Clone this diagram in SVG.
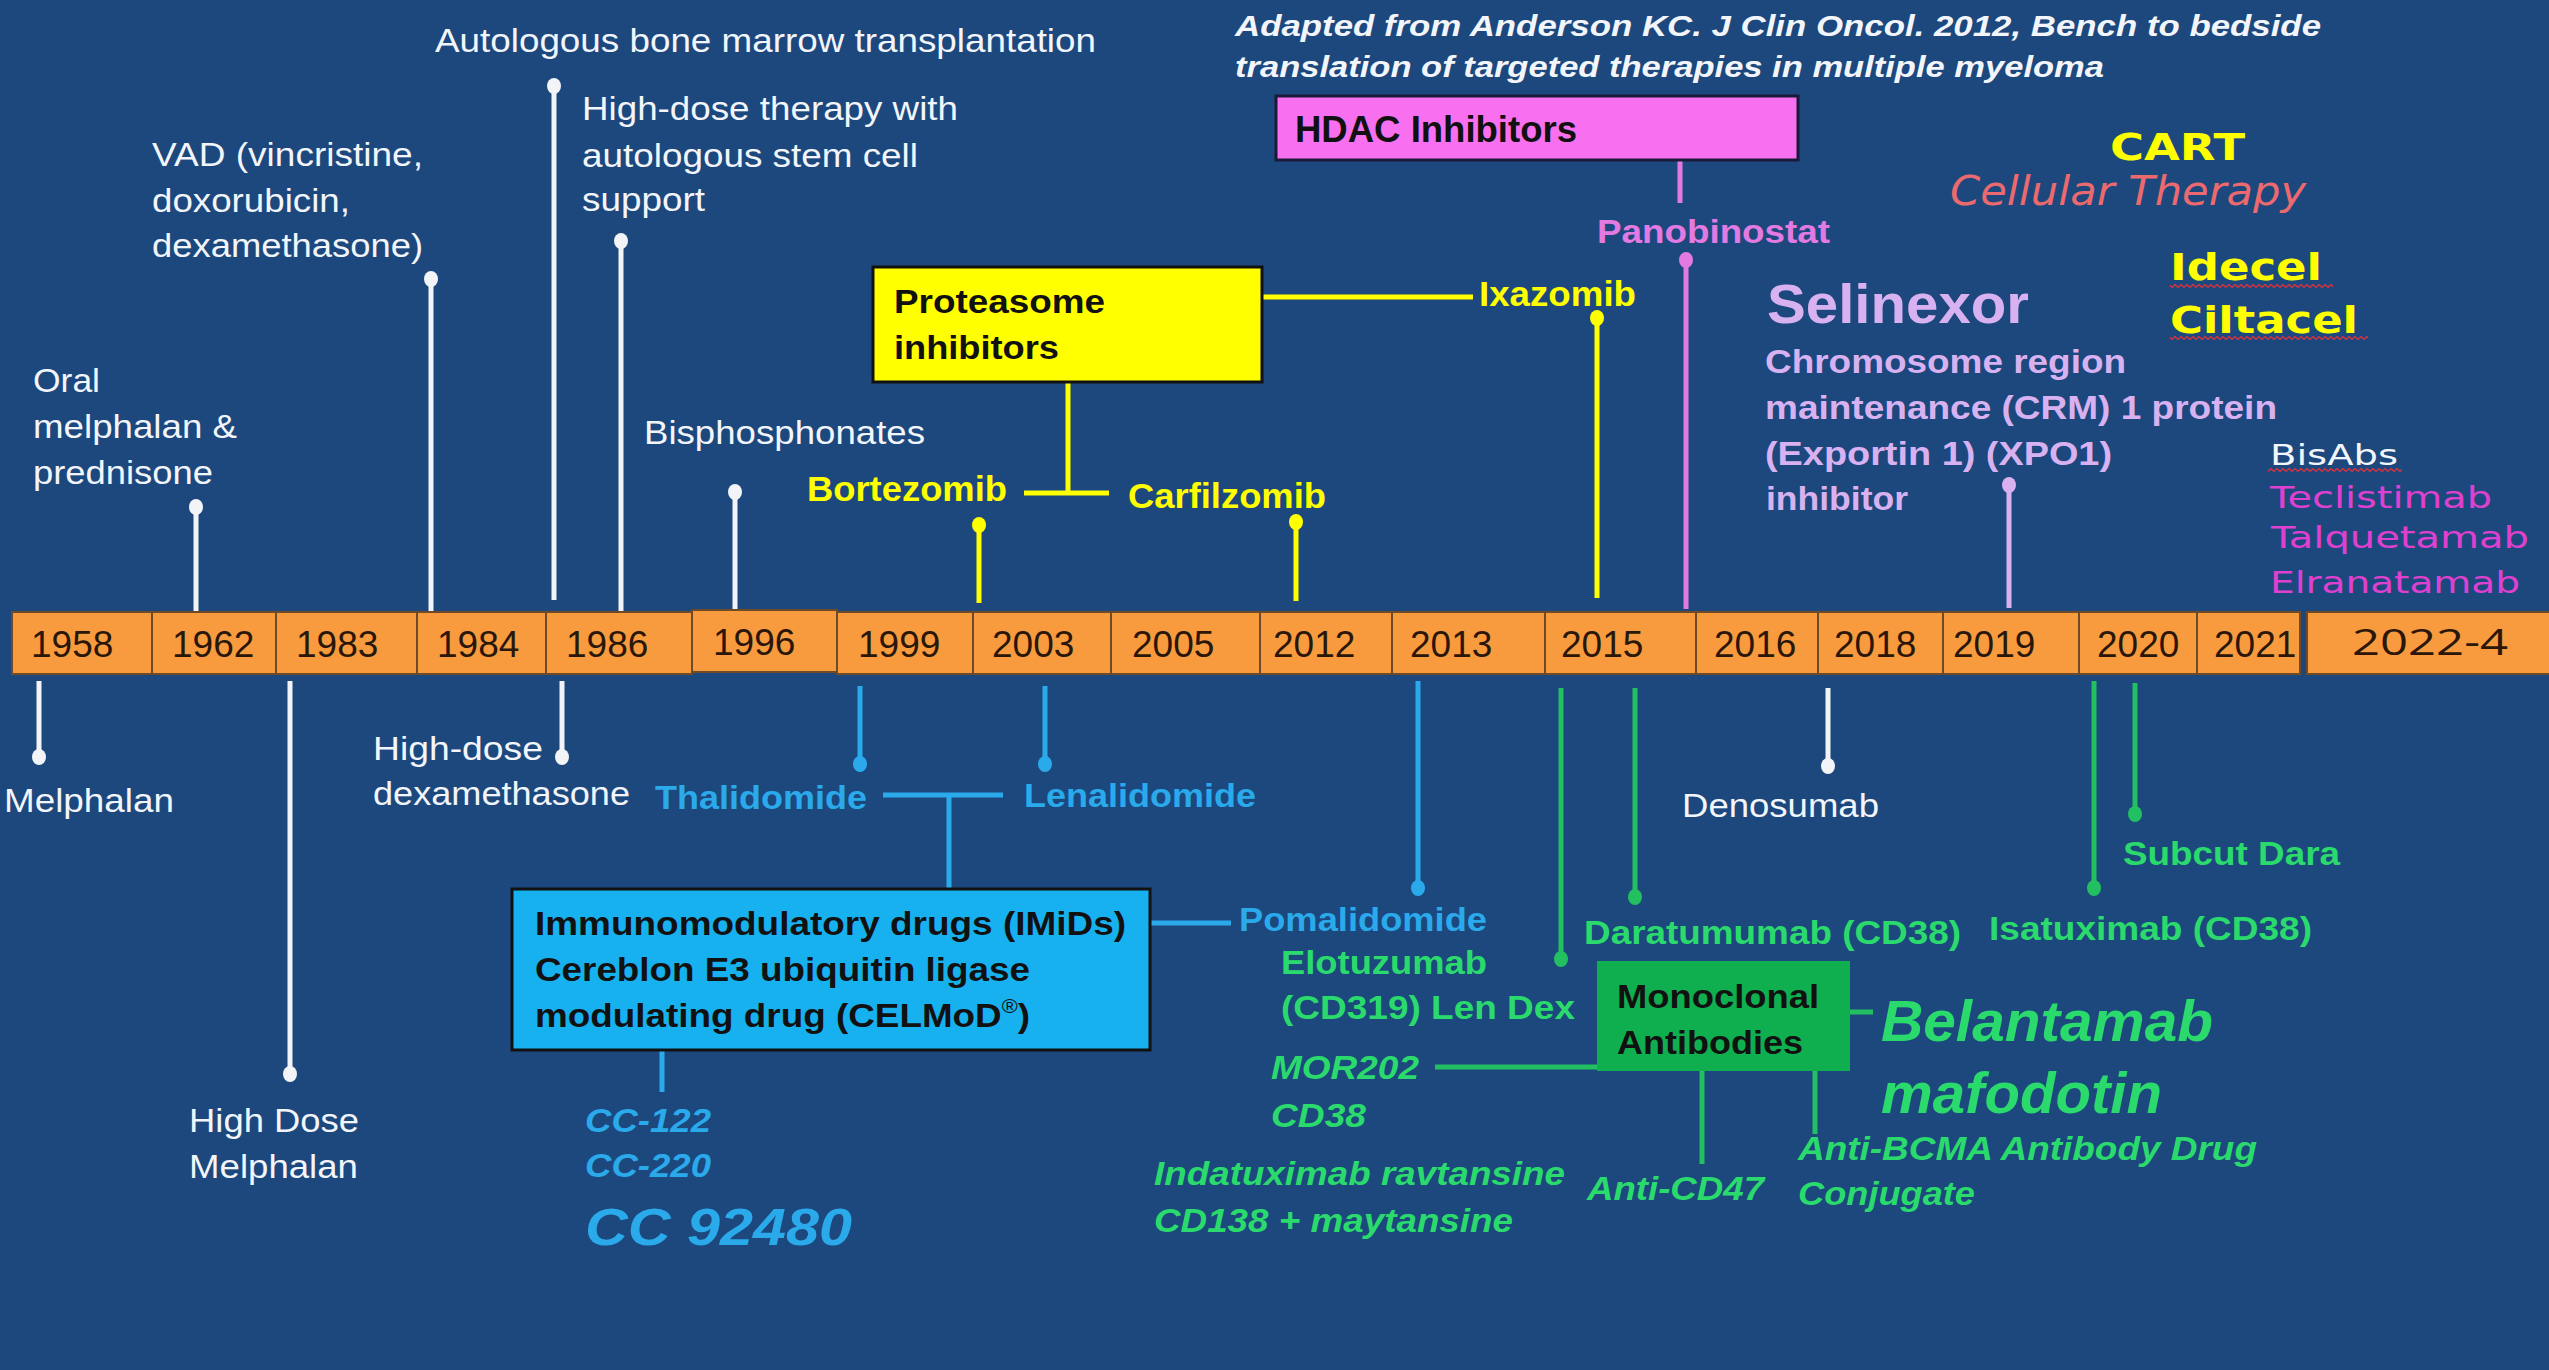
<svg xmlns="http://www.w3.org/2000/svg" width="2549" height="1370" viewBox="0 0 2549 1370">
<defs>
<style>
text{font-family:"Liberation Sans",Arial,sans-serif}
.w{font-size:33px;fill:#F2F5FA}
.b{font-weight:bold}
.i{font-style:italic}
.yr{font-size:37px;fill:#2A170A}
.yel{fill:#FFFF00}
.blu{fill:#2AAAEA}
.grn{fill:#2BDA6C}
.pnk{fill:#E27AE2}
.lav{fill:#D8B2F0}
.mag{fill:#E040D0}
.blk{fill:#111}
.dv{font-family:"DejaVu Sans",Verdana,sans-serif}
.cell{fill:#F89B3E;stroke:#6E4A28;stroke-width:2}
.sw{stroke:#F2F4F8;stroke-width:5;fill:none}
.sy{stroke:#FFFF00;stroke-width:5;fill:none}
.sb{stroke:#2AAAEA;stroke-width:5;fill:none}
.sg{stroke:#22C060;stroke-width:5;fill:none}
.sp{stroke:#E27AE2;stroke-width:5;fill:none}
.sl{stroke:#D8B2F0;stroke-width:5;fill:none}
.dw{fill:#F2F4F8}.dy{fill:#FFFF00}.db{fill:#2AAAEA}.dg{fill:#22C060}.dp{fill:#E27AE2}.dl{fill:#D8B2F0}
</style>
<pattern id="wave" patternUnits="userSpaceOnUse" width="6" height="4">
<path d="M0 3.5 L3 0.5 L6 3.5" stroke="#E0303A" stroke-width="1.3" fill="none"/>
</pattern>
</defs>
<rect width="2549" height="1370" fill="#1C487E"/>

<g id="connectors">
<!-- white stems above -->
<line class="sw" x1="196" y1="507" x2="196" y2="612"/><ellipse class="dw" cx="196" cy="507" rx="7" ry="8"/>
<line class="sw" x1="431" y1="279" x2="431" y2="612"/><ellipse class="dw" cx="431" cy="279" rx="7" ry="8"/>
<line class="sw" x1="554" y1="86" x2="554" y2="600"/><ellipse class="dw" cx="554" cy="86" rx="7" ry="8"/>
<line class="sw" x1="621" y1="241" x2="621" y2="612"/><ellipse class="dw" cx="621" cy="241" rx="7" ry="8"/>
<line class="sw" x1="735" y1="492" x2="735" y2="612"/><ellipse class="dw" cx="735" cy="492" rx="7" ry="8"/>
<!-- white stems below -->
<line class="sw" x1="39" y1="681" x2="39" y2="757"/><ellipse class="dw" cx="39" cy="757" rx="7" ry="8"/>
<line class="sw" x1="290" y1="681" x2="290" y2="1074"/><ellipse class="dw" cx="290" cy="1074" rx="7" ry="8"/>
<line class="sw" x1="562" y1="681" x2="562" y2="757"/><ellipse class="dw" cx="562" cy="757" rx="7" ry="8"/>
<line class="sw" x1="1828" y1="688" x2="1828" y2="766"/><ellipse class="dw" cx="1828" cy="766" rx="7" ry="8"/>
<!-- yellow -->
<line class="sy" x1="979" y1="525" x2="979" y2="603"/><ellipse class="dy" cx="979" cy="525" rx="7" ry="8"/>
<line class="sy" x1="1296" y1="522" x2="1296" y2="601"/><ellipse class="dy" cx="1296" cy="522" rx="7" ry="8"/>
<line class="sy" x1="1597" y1="318" x2="1597" y2="598"/><ellipse class="dy" cx="1597" cy="318" rx="7" ry="8"/>
<line class="sy" x1="1068" y1="382" x2="1068" y2="493"/>
<line class="sy" x1="1024" y1="493" x2="1109" y2="493"/>
<line class="sy" x1="1262" y1="297" x2="1473" y2="297" stroke-width="6"/>
<!-- pink -->
<line class="sp" x1="1680" y1="160" x2="1680" y2="203" stroke-width="4"/>
<line class="sp" x1="1686" y1="260" x2="1686" y2="609"/><ellipse class="dp" cx="1686" cy="260" rx="7" ry="8"/>
<!-- lavender -->
<line class="sl" x1="2009" y1="485" x2="2009" y2="608"/><ellipse class="dl" cx="2009" cy="485" rx="7" ry="8"/>
<!-- blue -->
<line class="sb" x1="860" y1="686" x2="860" y2="764"/><ellipse class="db" cx="860" cy="764" rx="7" ry="8"/>
<line class="sb" x1="1045" y1="686" x2="1045" y2="764"/><ellipse class="db" cx="1045" cy="764" rx="7" ry="8"/>
<line class="sb" x1="883" y1="795" x2="1003" y2="795"/>
<line class="sb" x1="949" y1="795" x2="949" y2="889"/>
<line class="sb" x1="1151" y1="923" x2="1231" y2="923"/>
<line class="sb" x1="1418" y1="681" x2="1418" y2="888"/><ellipse class="db" cx="1418" cy="888" rx="7" ry="8"/>
<line class="sb" x1="662" y1="1050" x2="662" y2="1092" stroke-width="3"/>
<!-- green -->
<line class="sg" x1="1561" y1="688" x2="1561" y2="959"/><ellipse class="dg" cx="1561" cy="959" rx="7" ry="8"/>
<line class="sg" x1="1635" y1="688" x2="1635" y2="897"/><ellipse class="dg" cx="1635" cy="897" rx="7" ry="8"/>
<line class="sg" x1="2094" y1="681" x2="2094" y2="888"/><ellipse class="dg" cx="2094" cy="888" rx="7" ry="8"/>
<line class="sg" x1="2135" y1="683" x2="2135" y2="814"/><ellipse class="dg" cx="2135" cy="814" rx="7" ry="8"/>
<line class="sg" x1="1435" y1="1067" x2="1598" y2="1067"/>
<line class="sg" x1="1702" y1="1071" x2="1702" y2="1164"/>
<line class="sg" x1="1815" y1="1062" x2="1815" y2="1134"/>
<line class="sg" x1="1850" y1="1012" x2="1873" y2="1012" stroke-width="4"/>
</g>

<g id="timeline">
<rect class="cell" x="12" y="612" width="140" height="62"/><text class="yr" x="31" y="657">1958</text>
<rect class="cell" x="152" y="612" width="124" height="62"/><text class="yr" x="172" y="657">1962</text>
<rect class="cell" x="276" y="612" width="141" height="62"/><text class="yr" x="296" y="657">1983</text>
<rect class="cell" x="417" y="612" width="129" height="62"/><text class="yr" x="437" y="657">1984</text>
<rect class="cell" x="546" y="612" width="146" height="62"/><text class="yr" x="566" y="657">1986</text>
<rect class="cell" x="692" y="610" width="145" height="62"/><text class="yr" x="713" y="655">1996</text>
<rect class="cell" x="837" y="612" width="136" height="62"/><text class="yr" x="858" y="657">1999</text>
<rect class="cell" x="973" y="612" width="138" height="62"/><text class="yr" x="992" y="657">2003</text>
<rect class="cell" x="1111" y="612" width="149" height="62"/><text class="yr" x="1132" y="657">2005</text>
<rect class="cell" x="1260" y="612" width="132" height="62"/><text class="yr" x="1273" y="657">2012</text>
<rect class="cell" x="1392" y="612" width="153" height="62"/><text class="yr" x="1410" y="657">2013</text>
<rect class="cell" x="1545" y="612" width="151" height="62"/><text class="yr" x="1561" y="657">2015</text>
<rect class="cell" x="1696" y="612" width="122" height="62"/><text class="yr" x="1714" y="657">2016</text>
<rect class="cell" x="1818" y="612" width="125" height="62"/><text class="yr" x="1834" y="657">2018</text>
<rect class="cell" x="1943" y="612" width="136" height="62"/><text class="yr" x="1953" y="657">2019</text>
<rect class="cell" x="2079" y="612" width="118" height="62"/><text class="yr" x="2097" y="657">2020</text>
<rect class="cell" x="2197" y="612" width="103" height="62"/><text class="yr" x="2214" y="657">2021</text>
<rect class="cell" x="2307" y="612" width="250" height="62"/><text x="2352" y="655" style="font-family:'Open Sans',sans-serif;font-size:36px;fill:#2A170A" textLength="156" lengthAdjust="spacingAndGlyphs">2022-4</text>
</g>

<g id="source-note">
<text class="b i" x="1235" y="36" style="font-size:30px;fill:#F2F5FA" textLength="1086" lengthAdjust="spacingAndGlyphs">Adapted from  Anderson KC. J Clin Oncol. 2012, Bench to bedside</text>
<text class="b i" x="1235" y="77" style="font-size:30px;fill:#F2F5FA" textLength="869" lengthAdjust="spacingAndGlyphs">translation of targeted therapies in multiple myeloma</text>
</g>

<g id="node-abmt"><text class="w" x="435" y="52" textLength="661" lengthAdjust="spacingAndGlyphs">Autologous bone marrow transplantation</text></g>
<g id="node-vad">
<text class="w" x="152" y="166" textLength="271" lengthAdjust="spacingAndGlyphs">VAD (vincristine,</text>
<text class="w" x="152" y="212" textLength="198" lengthAdjust="spacingAndGlyphs">doxorubicin,</text>
<text class="w" x="152" y="257" textLength="271" lengthAdjust="spacingAndGlyphs">dexamethasone)</text>
</g>
<g id="node-hdt">
<text class="w" x="582" y="120" textLength="376" lengthAdjust="spacingAndGlyphs">High-dose therapy with</text>
<text class="w" x="582" y="167" textLength="336" lengthAdjust="spacingAndGlyphs">autologous stem cell</text>
<text class="w" x="582" y="211" textLength="123" lengthAdjust="spacingAndGlyphs">support</text>
</g>
<g id="node-mp">
<text class="w" x="33" y="392" textLength="67" lengthAdjust="spacingAndGlyphs">Oral</text>
<text class="w" x="33" y="438" textLength="204" lengthAdjust="spacingAndGlyphs">melphalan &amp;</text>
<text class="w" x="33" y="484" textLength="180" lengthAdjust="spacingAndGlyphs">prednisone</text>
</g>
<g id="node-bisphosphonates"><text class="w" x="644" y="444" textLength="281" lengthAdjust="spacingAndGlyphs">Bisphosphonates</text></g>
<g id="node-melphalan"><text class="w" x="4" y="812" textLength="170" lengthAdjust="spacingAndGlyphs">Melphalan</text></g>
<g id="node-hdm">
<text class="w" x="189" y="1132" textLength="170" lengthAdjust="spacingAndGlyphs">High Dose</text>
<text class="w" x="189" y="1178" textLength="169" lengthAdjust="spacingAndGlyphs">Melphalan</text>
</g>
<g id="node-hddex">
<text class="w" x="373" y="760" textLength="170" lengthAdjust="spacingAndGlyphs">High-dose</text>
<text class="w" x="373" y="805" textLength="257" lengthAdjust="spacingAndGlyphs">dexamethasone</text>
</g>
<g id="node-denosumab"><text class="w" x="1682" y="817" textLength="197" lengthAdjust="spacingAndGlyphs">Denosumab</text></g>

<g id="node-proteasome">
<rect x="873" y="267" width="389" height="115" fill="#FFFF00" stroke="#111" stroke-width="3"/>
<text class="b blk" x="894" y="313" style="font-size:34px" textLength="211" lengthAdjust="spacingAndGlyphs">Proteasome</text>
<text class="b blk" x="894" y="359" style="font-size:34px" textLength="165" lengthAdjust="spacingAndGlyphs">inhibitors</text>
</g>
<g id="node-bortezomib"><text class="b yel" x="807" y="501" style="font-size:35px" textLength="200" lengthAdjust="spacingAndGlyphs">Bortezomib</text></g>
<g id="node-carfilzomib"><text class="b yel" x="1128" y="508" style="font-size:35px" textLength="198" lengthAdjust="spacingAndGlyphs">Carfilzomib</text></g>
<g id="node-ixazomib"><text class="b yel" x="1479" y="306" style="font-size:35px" textLength="157" lengthAdjust="spacingAndGlyphs">Ixazomib</text></g>

<g id="node-hdac">
<rect x="1276" y="96" width="522" height="64" fill="#F870F0" stroke="#1a1a3a" stroke-width="3"/>
<text class="b blk" x="1295" y="142" style="font-size:36px" textLength="282" lengthAdjust="spacingAndGlyphs">HDAC Inhibitors</text>
</g>
<g id="node-panobinostat"><text class="b pnk" x="1597" y="243" style="font-size:34px" textLength="233" lengthAdjust="spacingAndGlyphs">Panobinostat</text></g>

<g id="node-selinexor">
<text class="b lav" x="1767" y="323" style="font-size:56px" textLength="262" lengthAdjust="spacingAndGlyphs">Selinexor</text>
<text class="b lav" x="1765" y="373" style="font-size:33px" textLength="361" lengthAdjust="spacingAndGlyphs">Chromosome region</text>
<text class="b lav" x="1765" y="419" style="font-size:33px" textLength="512" lengthAdjust="spacingAndGlyphs">maintenance (CRM) 1 protein</text>
<text class="b lav" x="1765" y="465" style="font-size:33px" textLength="347" lengthAdjust="spacingAndGlyphs">(Exportin 1)  (XPO1)</text>
<text class="b lav" x="1766" y="510" style="font-size:33px" textLength="142" lengthAdjust="spacingAndGlyphs">inhibitor</text>
</g>

<g id="node-cart">
<text class="dv b yel" x="2110" y="160" style="font-size:38px" textLength="135" lengthAdjust="spacingAndGlyphs">CART</text>
<text class="dv" x="1950" y="205" style="font-size:40px;font-style:italic;fill:#EC6A6E" textLength="356" lengthAdjust="spacingAndGlyphs">Cellular Therapy</text>
</g>
<g id="node-idecel">
<text class="dv b yel" x="2170" y="280" style="font-size:38px" textLength="152" lengthAdjust="spacingAndGlyphs">Idecel</text>
<rect x="2170" y="284" width="163" height="4" fill="url(#wave)"/>
</g>
<g id="node-ciltacel">
<text class="dv b yel" x="2170" y="333" style="font-size:38px" textLength="188" lengthAdjust="spacingAndGlyphs">Ciltacel</text>
<rect x="2170" y="336" width="198" height="4" fill="url(#wave)"/>
</g>
<g id="node-bisabs">
<text class="dv" x="2270" y="465" style="font-size:29px;fill:#F2F5FA" textLength="128" lengthAdjust="spacingAndGlyphs">BisAbs</text>
<rect x="2268" y="468" width="134" height="4" fill="url(#wave)"/>
<text class="dv mag" x="2270" y="508" style="font-size:30px" textLength="222" lengthAdjust="spacingAndGlyphs">Teclistimab</text>
<text class="dv mag" x="2271" y="548" style="font-size:30px" textLength="258" lengthAdjust="spacingAndGlyphs">Talquetamab</text>
<text class="dv mag" x="2270" y="593" style="font-size:30px" textLength="250" lengthAdjust="spacingAndGlyphs">Elranatamab</text>
</g>

<g id="node-thalidomide"><text class="b blu" x="655" y="809" style="font-size:34px" textLength="212" lengthAdjust="spacingAndGlyphs">Thalidomide</text></g>
<g id="node-lenalidomide"><text class="b blu" x="1024" y="807" style="font-size:34px" textLength="232" lengthAdjust="spacingAndGlyphs">Lenalidomide</text></g>
<g id="node-pomalidomide"><text class="b blu" x="1239" y="931" style="font-size:34px" textLength="248" lengthAdjust="spacingAndGlyphs">Pomalidomide</text></g>
<g id="node-imids">
<rect x="512" y="889" width="638" height="161" fill="#17B1EF" stroke="#111" stroke-width="3"/>
<text class="b blk" x="535" y="935" style="font-size:34px" textLength="591" lengthAdjust="spacingAndGlyphs">Immunomodulatory  drugs (IMiDs)</text>
<text class="b blk" x="535" y="981" style="font-size:34px" textLength="495" lengthAdjust="spacingAndGlyphs">Cereblon E3 ubiquitin ligase</text>
<text class="b blk" x="535" y="1027" style="font-size:34px" textLength="495" lengthAdjust="spacingAndGlyphs">modulating drug (CELMoD<tspan style="font-size:20px;font-weight:normal" dy="-14">®</tspan><tspan dy="14">)</tspan></text>
</g>
<g id="node-celmods">
<text class="b i blu" x="585" y="1132" style="font-size:34px" textLength="126" lengthAdjust="spacingAndGlyphs">CC-122</text>
<text class="b i blu" x="585" y="1177" style="font-size:34px" textLength="126" lengthAdjust="spacingAndGlyphs">CC-220</text>
<text class="b i blu" x="585" y="1245" style="font-size:52px" textLength="267" lengthAdjust="spacingAndGlyphs">CC 92480</text>
</g>

<g id="node-elotuzumab">
<text class="b grn" x="1281" y="974" style="font-size:34px" textLength="206" lengthAdjust="spacingAndGlyphs">Elotuzumab</text>
<text class="b grn" x="1281" y="1019" style="font-size:34px" textLength="294" lengthAdjust="spacingAndGlyphs">(CD319) Len Dex</text>
</g>
<g id="node-daratumumab"><text class="b grn" x="1584" y="944" style="font-size:34px" textLength="377" lengthAdjust="spacingAndGlyphs">Daratumumab (CD38)</text></g>
<g id="node-isatuximab"><text class="b grn" x="1989" y="940" style="font-size:34px" textLength="323" lengthAdjust="spacingAndGlyphs">Isatuximab (CD38)</text></g>
<g id="node-subcut"><text class="b grn" x="2123" y="865" style="font-size:34px" textLength="217" lengthAdjust="spacingAndGlyphs">Subcut Dara</text></g>
<g id="node-mor202">
<text class="b i grn" x="1271" y="1079" style="font-size:34px" textLength="148" lengthAdjust="spacingAndGlyphs">MOR202</text>
<text class="b i grn" x="1271" y="1127" style="font-size:34px" textLength="95" lengthAdjust="spacingAndGlyphs">CD38</text>
</g>
<g id="node-indatuximab">
<text class="b i grn" x="1154" y="1185" style="font-size:34px" textLength="411" lengthAdjust="spacingAndGlyphs">Indatuximab ravtansine</text>
<text class="b i grn" x="1154" y="1232" style="font-size:34px" textLength="359" lengthAdjust="spacingAndGlyphs">CD138 + maytansine</text>
</g>
<g id="node-antibodies">
<rect x="1597" y="961" width="253" height="110" fill="#0FAF4F"/>
<text class="b blk" x="1617" y="1008" style="font-size:34px" textLength="202" lengthAdjust="spacingAndGlyphs">Monoclonal</text>
<text class="b blk" x="1617" y="1054" style="font-size:34px" textLength="186" lengthAdjust="spacingAndGlyphs">Antibodies</text>
</g>
<g id="node-anticd47"><text class="b i grn" x="1587" y="1200" style="font-size:34px" textLength="177" lengthAdjust="spacingAndGlyphs">Anti-CD47</text></g>
<g id="node-belantamab">
<text class="b i grn" x="1881" y="1041" style="font-size:58px" textLength="332" lengthAdjust="spacingAndGlyphs">Belantamab</text>
<text class="b i grn" x="1881" y="1113" style="font-size:58px" textLength="281" lengthAdjust="spacingAndGlyphs">mafodotin</text>
</g>
<g id="node-antibcma">
<text class="b i grn" x="1798" y="1160" style="font-size:34px" textLength="459" lengthAdjust="spacingAndGlyphs">Anti-BCMA Antibody Drug</text>
<text class="b i grn" x="1798" y="1205" style="font-size:34px" textLength="177" lengthAdjust="spacingAndGlyphs">Conjugate</text>
</g>
</svg>
